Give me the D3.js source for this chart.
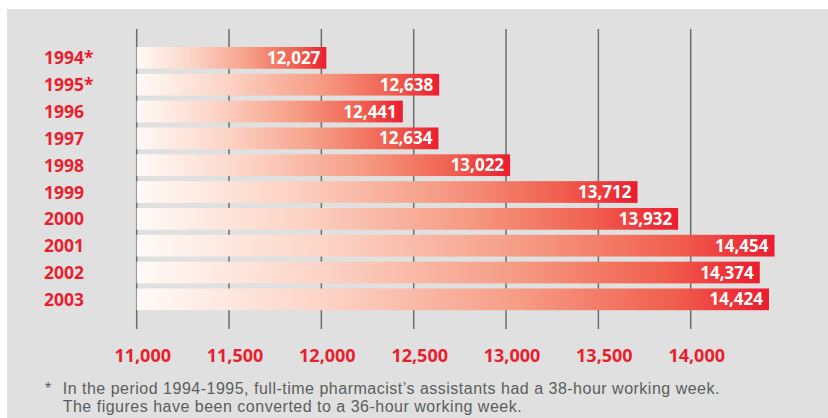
<!DOCTYPE html>
<html>
<head>
<meta charset="utf-8">
<script src="https://cdn.jsdelivr.net/npm/d3@7"></script>
<style>
	html, body { margin: 0; padding: 0; background: #ffffff; }
	svg { display: block; font-family: "Open Sans", sans-serif; }
</style>
</head>
<body>
<svg id="chart"></svg>
<script>
// Data
const years = ["1994*", "1995*", "1996", "1997", "1998", "1999", "2000", "2001", "2002", "2003"];
const salaries = [12027, 12638, 12441, 12634, 13022, 13712, 13932, 14454, 14374, 14424];
const tickValues = [11000, 11500, 12000, 12500, 13000, 13500, 14000];
const footnote = [
	"In the period 1994-1995, full-time pharmacist\u2019s assistants had a 38-hour working week.",
	"The figures have been converted to a 36-hour working week."
];

const width = 828;
const height = 418;
const red = "#e81f2f";

const svg = d3.select("#chart").attr("width", width).attr("height", height);

// Grey panel
svg.append("rect")
	.attr("x", 7).attr("y", 9)
	.attr("width", width - 7).attr("height", height - 9)
	.attr("fill", "#dfe0df");

// Gradient for the bars (per bar)
const grad = svg.append("defs").append("linearGradient")
	.attr("id", "barGrad")
	.attr("x1", "0%").attr("x2", "100%").attr("y1", "0%").attr("y2", "0%");
[
	[0, "#fffaf7"],
	[0.3, "#fcd3c5"],
	[0.6, "#f69d86"],
	[0.85, "#f05e4d"],
	[1, "#ec1c2e"]
].forEach(([o, c]) => grad.append("stop").attr("offset", o).attr("stop-color", c));

// Scales
const x = d3.scaleLinear().domain([11000, 14000]).range([136.7, 690.7]);
const y = d3.scaleBand().domain(years).range([44.45, 312.75]).paddingInner(0.19).paddingOuter(0.095);

// Grid lines
svg.append("g")
	.selectAll("line")
	.data(tickValues)
	.enter()
	.append("line")
	.attr("x1", (d) => x(d)).attr("x2", (d) => x(d))
	.attr("y1", 29).attr("y2", 329)
	.attr("stroke", "#6b6e6d")
	.attr("stroke-width", 1.5);

// Bars
svg.append("g")
	.selectAll("rect")
	.data(salaries)
	.enter()
	.append("rect")
	.attr("x", x(11000))
	.attr("y", (d, i) => y(years[i]))
	.attr("width", (d) => x(d) - x(11000))
	.attr("height", y.bandwidth())
	.attr("fill", "url(#barGrad)");

// Value labels
const fmt = d3.format(",");
svg.append("g")
	.selectAll("text")
	.data(salaries)
	.enter()
	.append("text")
	.attr("x", (d) => x(d) - 6)
	.attr("y", (d, i) => y(years[i]) + y.bandwidth() / 2 + 6)
	.attr("text-anchor", "end")
	.attr("fill", "#ffffff")
	.attr("font-weight", "bold")
	.attr("font-size", "17px")
	.text((d) => fmt(d));

// Year labels
svg.append("g")
	.selectAll("text")
	.data(years)
	.enter()
	.append("text")
	.attr("x", 44)
	.attr("y", (d) => y(d) + y.bandwidth() / 2 + 6.5)
	.attr("fill", red)
	.attr("font-weight", "bold")
	.attr("font-size", "17.5px")
	.text((d) => d);

// X tick labels
svg.append("g")
	.selectAll("text")
	.data(tickValues)
	.enter()
	.append("text")
	.attr("x", (d) => x(d) + 6)
	.attr("y", 361.5)
	.attr("text-anchor", "middle")
	.attr("fill", red)
	.attr("font-weight", "bold")
	.attr("font-size", "18px")
	.text((d) => fmt(d));

// Footnote
const note = svg.append("g")
	.attr("fill", "#5b5e5d")
	.attr("font-family", "'Liberation Sans', Arial, sans-serif")
	.attr("font-size", "16px")
	.attr("letter-spacing", "0.5px");
note.append("text").attr("x", 45).attr("y", 394.3).text("*");
note.selectAll("text.line")
	.data(footnote)
	.enter()
	.append("text")
	.attr("class", "line")
	.attr("x", 62.7)
	.attr("y", (d, i) => 394.3 + i * 18)
	.text((d) => d);
</script>
</body>
</html>
